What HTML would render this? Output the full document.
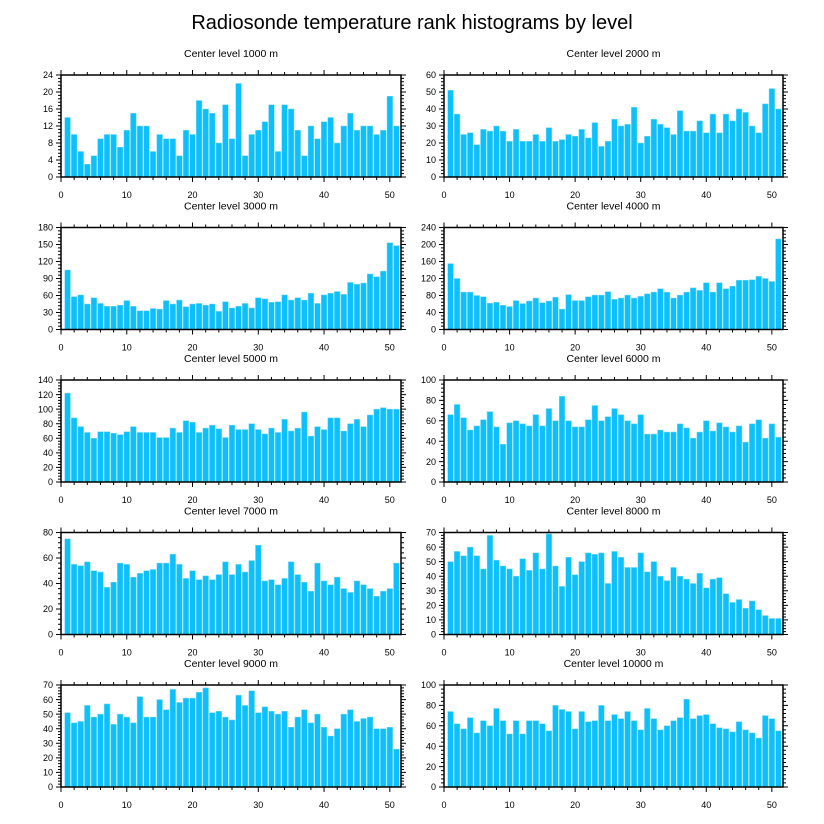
<!DOCTYPE html>
<html><head><meta charset="utf-8">
<style>
html,body{margin:0;padding:0;background:#fff;}
svg{display:block;font-family:"Liberation Sans",Arial,sans-serif;}
</style></head>
<body>
<svg id="chart" width="824" height="824" viewBox="0 0 824 824">
<text x="412" y="29" text-anchor="middle" font-size="20" fill="#000">Radiosonde temperature rank histograms by level</text>
</svg>
<script>
const levels = ["1000","2000","3000","4000","5000","6000","7000","8000","9000","10000"];
const yMaxes = [24,60,180,240,140,100,80,70,70,100];
const ySteps = [4,10,30,40,20,20,20,10,10,20];
const xTicks = [0,10,20,30,40,50];
const v1000 = [14,10,6,3,5,9,10,10,7,11,15,12,12,6,10,9,9,5,11,10,18,16,15,8,17,9,22,5,10,11,13,17,6,17,16,11,5,12,9,13,14,8,12,15,11,12,12,10,11,19,12];
const v2000 = [51,37,25,26,19,28,27,30,27,21,28,21,21,25,21,29,21,22,25,24,28,23,32,18,21,34,30,31,41,20,24,34,31,29,25,39,27,27,33,26,37,26,37,33,40,38,30,26,43,52,40];
const v3000 = [105,58,61,45,56,46,41,41,43,51,41,33,33,37,36,51,45,52,40,45,46,43,45,32,49,38,41,46,38,56,54,48,49,61,52,56,52,64,46,61,64,67,62,83,80,82,98,93,103,153,148];
const v4000 = [155,120,88,88,80,77,62,64,57,54,68,61,67,74,63,67,76,48,82,68,68,77,81,81,89,71,74,81,74,78,84,88,96,88,74,81,88,98,92,110,88,110,96,102,116,116,117,125,120,113,213];
const v5000 = [122,88,76,68,60,69,69,67,65,69,76,68,68,68,61,61,74,68,84,82,68,74,78,73,61,78,72,72,80,72,66,74,68,86,70,74,96,63,76,72,88,88,70,80,86,76,92,100,102,100,100];
const v6000 = [66,76,63,51,55,61,69,54,37,58,60,57,55,66,55,72,60,84,60,54,54,61,75,60,64,72,66,60,57,66,47,47,51,49,49,57,53,43,49,60,50,58,54,49,55,39,57,61,43,57,44];
const v7000 = [75,55,54,57,50,49,37,41,56,55,45,48,50,51,56,56,63,55,44,50,43,46,43,47,57,47,55,49,58,70,42,43,39,44,57,47,41,34,56,42,39,45,36,33,42,39,36,30,34,36,56];
const v8000 = [50,57,54,60,54,45,68,51,47,45,40,52,44,56,45,69,47,33,53,41,50,56,55,56,35,57,53,46,46,56,43,50,40,37,46,40,38,35,42,32,38,39,28,22,24,18,23,17,13,11,11];
const v9000 = [51,44,45,56,48,50,57,43,50,48,44,62,48,48,60,53,67,58,61,61,65,68,51,52,48,46,63,56,66,51,55,52,50,52,41,48,53,44,50,41,35,40,50,53,45,47,48,40,40,41,26];
const v10000 = [74,62,57,68,53,65,60,77,65,52,65,52,65,65,62,55,80,76,74,57,74,64,65,80,65,71,67,74,65,56,77,67,56,60,65,68,86,67,70,71,62,58,57,54,64,56,53,48,70,67,55];
const seriesList = [v1000,v2000,v3000,v4000,v5000,v6000,v7000,v8000,v9000,v10000];

const NS = "http://www.w3.org/2000/svg";
const svg = document.getElementById("chart");
const X_MAX = 51.7;
function mk(tag, attrs, parent){
  const e = document.createElementNS(NS, tag);
  for (const k in attrs) e.setAttribute(k, attrs[k]);
  parent.appendChild(e);
  return e;
}
seriesList.forEach((vals, i) => {
  const col = i % 2, row = Math.floor(i / 2);
  const L = col === 0 ? 61 : 444, R = col === 0 ? 401 : 783;
  const T = 75 + row * 152.5, B = T + 102;
  const yMax = yMaxes[i], step = ySteps[i];
  const xs = v => L + (v / X_MAX) * (R - L);
  const ys = v => B - (v / yMax) * (B - T);
  const g = mk("g", {}, svg);
  
  
  const t = mk("text", {x:(L+R)/2, y:T-18, "text-anchor":"middle", "font-size":"10.5", fill:"#000"}, g);
  t.textContent = "Center level " + levels[i] + " m";
  
  
  const bw = 0.86;
  vals.forEach((v, k) => {
    const c = k + 1;
    const r = mk("rect", {x:xs(c - bw/2), y:ys(v), width:xs(c + bw/2) - xs(c - bw/2), height:B - ys(v), fill:"#0cc0fb", stroke:"#7ad8fb", "stroke-width":"0.5"}, g);
    
    
  });
  const frame = mk("rect", {x:L, y:T, width:R-L, height:B-T, fill:"none", stroke:"#000", "stroke-width":"1.5"}, g);
  
  
  let d = "";
  for (let xv = 0; xv <= X_MAX; xv += 2) {
    const major = xv % 10 === 0, len = major ? 5 : 3, px = xs(xv);
    d += `M${px},${B}v${len}M${px},${T}v${-len}`;
  }
  const mstep = step / 5;
  for (let n = 0; n * mstep <= yMax + 1e-9; n++) {
    const yv = n * mstep, major = n % 5 === 0, len = major ? 5 : 3, py = ys(yv);
    d += `M${L},${py}h${-len}M${R},${py}h${len}`;
  }
  const ticks = mk("path", {d:d, stroke:"#000", "stroke-width":"1", fill:"none"}, g);
  
  
  xTicks.forEach(xv => {
    const tl = mk("text", {x:xs(xv), y:B+21, "text-anchor":"middle", "font-size":"9", fill:"#000"}, g);
    tl.textContent = xv;
    
    
  });
  for (let yv = 0; yv <= yMax; yv += step) {
    const tl = mk("text", {x:L-8, y:ys(yv)+3.2, "text-anchor":"end", "font-size":"9", fill:"#000"}, g);
    tl.textContent = yv;
    
    
  }
});
</script>
</body></html>
